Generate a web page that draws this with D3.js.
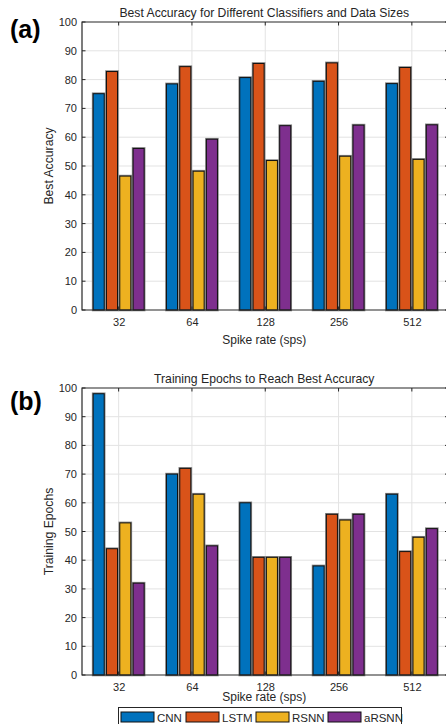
<!DOCTYPE html>
<html>
<head>
<meta charset="utf-8">
<script src="https://cdn.jsdelivr.net/npm/d3@7"></script>
<style>
  html, body { margin: 0; padding: 0; background: #fff; }
  svg { display: block; font-family: "Liberation Sans", Arial, sans-serif; }
</style>
</head>
<body>
<svg id="chart" width="446" height="724"></svg>
<script>
// spike rates on the x axis
const rates = ["32", "64", "128", "256", "512"];
const classifiers = ["CNN", "LSTM", "RSNN", "aRSNN"];
const colors = ["#0072BD", "#D95319", "#EDB120", "#7E2F8E"];

// best accuracy per classifier (rows follow rates)
const accCNN   = [75.1, 78.5, 80.7, 79.4, 78.6];
const accLSTM  = [82.8, 84.5, 85.6, 85.8, 84.2];
const accRSNN  = [46.5, 48.2, 51.9, 53.4, 52.3];
const accARSNN = [56.1, 59.3, 64.0, 64.2, 64.3];

// training epochs needed to reach best accuracy
const epCNN   = [98, 70, 60, 38, 63];
const epLSTM  = [44, 72, 41, 56, 43];
const epRSNN  = [53, 63, 41, 54, 48];
const epARSNN = [32, 45, 41, 56, 51];

const yTicks = [0, 10, 20, 30, 40, 50, 60, 70, 80, 90, 100];

const svg = d3.select("#chart");
const axisColor = "#262626";

//draws one matlab style grouped bar panel
function drawPanel(opts) {
  const { top, bottom, title, ylabel, letter, letterY, series } = opts;
  const left = 82, right = 448.5;

  const x0 = d3.scalePoint().domain(rates).range([left, right]).padding(0.5);
  const x1 = d3.scaleBand().domain(classifiers).range([-25.5, 25.5]).paddingInner(0.17);
  const y = d3.scaleLinear().domain([0, 100]).range([bottom, top]);

  const g = svg.append("g");

  // grid lines
  g.selectAll("line.hgrid").data(yTicks.slice(1, -1)).join("line")
    .attr("x1", left).attr("x2", right)
    .attr("y1", d => y(d)).attr("y2", d => y(d))
    .attr("stroke", "#e3e3e3").attr("stroke-width", 1);
  g.selectAll("line.vgrid").data(rates).join("line")
    .attr("x1", d => x0(d)).attr("x2", d => x0(d))
    .attr("y1", top).attr("y2", bottom)
    .attr("stroke", "#e3e3e3").attr("stroke-width", 1);

  // bars, rebuilt from the series arrays
  const rows = [];
  rates.forEach((r, i) => {
    classifiers.forEach((c, j) => rows.push({ rate: r, cls: c, value: series[j][i], color: colors[j] }));
  });

  // soft grey halo behind the black edge
  g.selectAll("rect.halo").data(rows).join("rect")
    .attr("x", d => x0(d.rate) + x1(d.cls))
    .attr("y", d => y(d.value))
    .attr("width", x1.bandwidth())
    .attr("height", d => bottom - y(d.value))
    .attr("fill", "none")
    .attr("stroke", "#8a8a8a")
    .attr("stroke-width", 2.6);

  g.selectAll("rect.bar").data(rows).join("rect")
    .attr("x", d => x0(d.rate) + x1(d.cls))
    .attr("y", d => y(d.value))
    .attr("width", x1.bandwidth())
    .attr("height", d => bottom - y(d.value))
    .attr("fill", d => d.color)
    .attr("stroke", "#111")
    .attr("stroke-width", 1);

  // axes
  const yAxis = g.append("g")
    .attr("transform", `translate(${left},0)`)
    .call(d3.axisLeft(y).tickValues(yTicks).tickSize(0).tickPadding(5));
  yAxis.select(".domain").remove();
  yAxis.selectAll("text")
    .attr("font-size", 11).attr("fill", axisColor)
    .attr("font-family", "Liberation Sans, Arial, sans-serif");

  const xAxis = g.append("g")
    .attr("transform", `translate(0,${bottom})`)
    .call(d3.axisBottom(x0).tickSize(0).tickPadding(8));
  xAxis.select(".domain").remove();
  xAxis.selectAll("text")
    .attr("font-size", 11).attr("fill", axisColor)
    .attr("font-family", "Liberation Sans, Arial, sans-serif");

  // inward ticks on all four sides
  const tl = 3.5;
  g.selectAll("line.ltick").data(yTicks).join("line")
    .attr("x1", left).attr("x2", left + tl)
    .attr("y1", d => y(d)).attr("y2", d => y(d))
    .attr("stroke", axisColor);
  g.selectAll("line.rtick").data(yTicks).join("line")
    .attr("x1", right - tl).attr("x2", right)
    .attr("y1", d => y(d)).attr("y2", d => y(d))
    .attr("stroke", axisColor);
  g.selectAll("line.btick").data(rates).join("line")
    .attr("x1", d => x0(d)).attr("x2", d => x0(d))
    .attr("y1", bottom).attr("y2", bottom - tl)
    .attr("stroke", axisColor);
  g.selectAll("line.ttick").data(rates).join("line")
    .attr("x1", d => x0(d)).attr("x2", d => x0(d))
    .attr("y1", top).attr("y2", top + tl)
    .attr("stroke", axisColor);

  // box
  g.append("path")
    .attr("d", `M${right},${top}H${left}V${bottom}H${right}V${top}`)
    .attr("fill", "none")
    .attr("stroke", axisColor)
    .attr("stroke-width", 1.2);

  // titles
  g.append("text")
    .attr("x", (left + right) / 2 - 1).attr("y", top - 5)
    .attr("text-anchor", "middle")
    .attr("font-size", 12.2).attr("fill", axisColor)
    .text(title);

  g.append("text")
    .attr("transform", `translate(53,${(top + bottom) / 2}) rotate(-90)`)
    .attr("text-anchor", "middle")
    .attr("font-size", 12.2).attr("fill", axisColor)
    .text(ylabel);

  g.append("text")
    .attr("x", (left + right) / 2 - 1).attr("y", opts.xlabelY)
    .attr("text-anchor", "middle")
    .attr("font-size", 12).attr("fill", axisColor)
    .text("Spike rate (sps)");

  g.append("text")
    .attr("x", 10).attr("y", letterY)
    .attr("font-size", 25).attr("font-weight", "bold").attr("fill", "#000")
    .text(letter);
}

drawPanel({
  top: 22, bottom: 310, title: "Best Accuracy for Different Classifiers and Data Sizes",
  ylabel: "Best Accuracy", letter: "(a)", letterY: 38, xlabelY: 344,
  series: [accCNN, accLSTM, accRSNN, accARSNN],
});

drawPanel({
  top: 388, bottom: 675, title: "Training Epochs to Reach Best Accuracy",
  ylabel: "Training Epochs", letter: "(b)", letterY: 410, xlabelY: 701,
  series: [epCNN, epLSTM, epRSNN, epARSNN],
});

// legend along the bottom edge
const legend = svg.append("g");
legend.append("rect")
  .attr("x", 118.5).attr("y", 707.5)
  .attr("width", 283).attr("height", 30)
  .attr("fill", "#fff").attr("stroke", axisColor).attr("stroke-width", 1);

const legendX = d3.scaleOrdinal().domain(classifiers).range([121, 186, 256, 328]);
const item = legend.selectAll("g.item").data(classifiers).join("g")
  .attr("transform", d => `translate(${legendX(d)},712)`);
item.append("rect")
  .attr("width", 33).attr("height", 10)
  .attr("fill", (d, i) => colors[i])
  .attr("stroke", "#111").attr("stroke-width", 1);
item.append("text")
  .attr("x", 36).attr("y", 9.5)
  .attr("font-size", 11.5).attr("fill", axisColor)
  .text(d => d);
</script>
</body>
</html>
